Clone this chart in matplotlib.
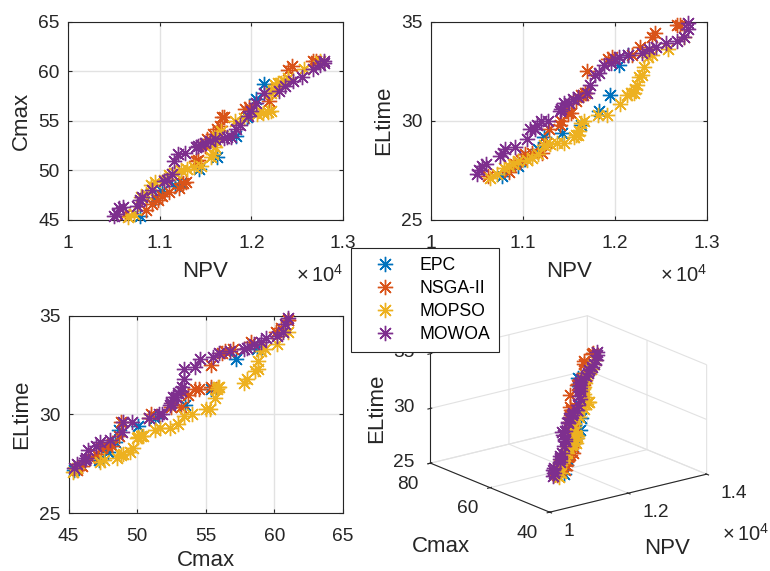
import numpy as np
import matplotlib
matplotlib.use("Agg")
import matplotlib.pyplot as plt

plt.rcParams['font.family'] = ['Liberation Sans', 'DejaVu Sans']
plt.rcParams['mathtext.default'] = 'regular'

names = ["EPC", "NSGA-II", "MOPSO", "MOWOA"]
colors = ["#0072BD", "#D95319", "#EDB120", "#7E2F8E"]

# NPV (x 1e4), Cmax, ELtime
epc_npv = [1.078, 1.095, 1.103, 1.117, 1.123, 1.143, 1.163, 1.183, 1.195, 1.205, 1.214]
epc_cmax = [45.4, 47.2, 47.9, 48.4, 48.7, 50.1, 51.3, 53.5, 55.4, 57.2, 58.7]
epc_el = [27.2, 27.7, 28.1, 28.6, 29.2, 29.4, 29.8, 30.5, 31.3, 32.8, 33.3]

nsga_npv = [1.062, 1.085, 1.092, 1.098, 1.103, 1.110, 1.121, 1.125, 1.129, 1.140, 1.142, 1.149,
            1.152, 1.158, 1.163, 1.166, 1.168, 1.170, 1.193, 1.197, 1.219, 1.227, 1.240, 1.244,
            1.267, 1.271]
nsga_cmax = [45.6, 46.0, 46.6, 47.0, 47.4, 47.8, 48.2, 48.7, 48.8, 50.9, 51.0, 52.5,
             53.2, 53.7, 54.2, 54.5, 55.4, 55.4, 56.2, 56.4, 57.0, 58.3, 60.1, 60.5,
             61.0, 61.0]
nsga_el = [27.2, 27.4, 27.8, 28.0, 28.3, 28.4, 28.4, 28.9, 29.6, 29.8, 30.0, 30.4,
           30.4, 31.0, 31.3, 31.3, 31.4, 32.5, 33.1, 33.2, 33.3, 33.7, 34.2, 34.4,
           34.8, 34.8]

mopso_npv = [1.065, 1.072, 1.080, 1.085, 1.090, 1.095, 1.105, 1.110, 1.117, 1.123, 1.130, 1.137,
             1.145, 1.156, 1.158, 1.160, 1.161, 1.163, 1.167, 1.182, 1.192, 1.206, 1.213, 1.218,
             1.221, 1.222, 1.224, 1.226, 1.229, 1.232, 1.236, 1.240, 1.258, 1.275]
mopso_cmax = [45.3, 45.6, 47.3, 47.6, 48.5, 48.8, 49.0, 49.5, 49.7, 50.0, 50.1, 50.3,
              50.4, 51.3, 51.7, 52.4, 53.0, 53.4, 54.0, 55.0, 55.3, 55.7, 55.8, 55.9,
              56.0, 57.8, 58.0, 58.6, 58.8, 58.8, 59.0, 59.3, 60.2, 61.0]
mopso_el = [27.1, 27.3, 27.6, 27.7, 27.8, 27.95, 28.0, 28.1, 28.3, 28.8, 28.85, 28.9,
            28.9, 29.2, 29.3, 29.3, 29.5, 29.9, 30.0, 30.3, 30.3, 30.85, 31.3, 31.4,
            31.4, 31.6, 31.8, 32.2, 32.3, 32.7, 33.2, 33.3, 33.6, 34.2]

mowoa_npv = [1.050, 1.053, 1.056, 1.060, 1.075, 1.079, 1.081, 1.092, 1.105, 1.108, 1.113, 1.116,
             1.120, 1.128, 1.140, 1.142, 1.145, 1.150, 1.155, 1.160, 1.170, 1.173, 1.178, 1.183,
             1.188, 1.196, 1.200, 1.205, 1.214, 1.230, 1.237, 1.245, 1.255, 1.267, 1.275, 1.279,
             1.279]
mowoa_cmax = [45.4, 45.6, 46.2, 46.3, 46.4, 47.0, 47.3, 48.0, 48.9, 49.0, 49.6, 50.9,
              51.6, 51.8, 52.4, 52.5, 52.6, 52.8, 53.0, 53.2, 53.3, 53.4, 53.4, 54.2,
              54.6, 55.5, 56.0, 56.8, 57.8, 58.0, 58.5, 59.0, 59.4, 60.2, 60.6, 60.8,
              61.0]
mowoa_el = [27.3, 27.5, 27.7, 27.8, 28.2, 28.4, 28.6, 28.7, 29.1, 29.6, 29.6, 29.8,
            30.0, 30.0, 30.5, 30.6, 30.9, 30.9, 31.1, 31.2, 31.4, 31.8, 32.3, 32.4,
            32.8, 32.9, 33.1, 33.2, 33.3, 33.4, 33.6, 33.7, 33.9, 34.0, 34.2, 34.6,
            34.9]

npv = [epc_npv, nsga_npv, mopso_npv, mowoa_npv]
cmax = [epc_cmax, nsga_cmax, mopso_cmax, mowoa_cmax]
eltime = [epc_el, nsga_el, mopso_el, mowoa_el]

W, H = 770, 571
dark = '#262626'
star = (8, 2, 0)
tick_fs = 13.8
label_fs = 16


def rect(x0, y0, x1, y1):
    # pixel box from the top left corner to figure fractions
    return [x0 / W, 1 - y1 / H, (x1 - x0) / W, (y1 - y0) / H]


def panel(box, xs, ys, xlim, ylim, xticks, yticks, xlab, ylab, xfmt, offset=False, xpad=7):
    ax = fig.add_axes(rect(*box))
    for x, y, c in zip(xs, ys, colors):
        ax.plot(x, y, ls='none', marker=star, ms=11, mew=1.0, color=c, clip_on=False, zorder=3)
    ax.set_xlim(xlim)
    ax.set_ylim(ylim)
    ax.set_xticks(xticks)
    ax.set_xticklabels(xfmt)
    ax.set_yticks(yticks)
    ax.grid(True, color='#e2e2e2', lw=1.0)
    ax.set_axisbelow(True)
    ax.tick_params(direction='in', top=True, right=True, length=3, width=0.8, colors=dark,
                   labelsize=tick_fs)
    ax.tick_params(axis='x', pad=10.5)
    ax.tick_params(axis='y', pad=6)
    ax.set_xlabel(xlab, fontsize=label_fs, color=dark, labelpad=xpad)
    ax.set_ylabel(ylab, fontsize=label_fs, color=dark, labelpad=4.5)
    for s in ax.spines.values():
        s.set_color(dark)
        s.set_linewidth(0.8)
    if offset:
        ax.text(1.0, -0.278, r'$\times\,10^{4}$', transform=ax.transAxes, ha='right', va='center',
                fontsize=14.5, color=dark)
    return ax


fig = plt.figure(figsize=(W / 100, H / 100), dpi=100)

npv_ticks = [1.0, 1.1, 1.2, 1.3]
npv_labels = ['1', '1.1', '1.2', '1.3']
panel((68, 21.5, 343, 220), npv, cmax, (1.0, 1.3), (45, 65), npv_ticks, [45, 50, 55, 60, 65],
      'NPV', 'Cmax', npv_labels, offset=True)
panel((430.5, 21.5, 707, 220), npv, eltime, (1.0, 1.3), (25, 35), npv_ticks, [25, 30, 35],
      'NPV', 'ELtime', npv_labels, offset=True)
panel((68.5, 316, 343, 513), cmax, eltime, (45, 65), (25, 35), [45, 50, 55, 60, 65], [25, 30, 35],
      'Cmax', 'ELtime', ['45', '50', '55', '60', '65'], xpad=4)

# 3D panel
ax3 = fig.add_axes(rect(414.5, 268, 714.5, 568), projection='3d', proj_type='ortho')
ax3.view_init(elev=18.4, azim=-127.5)
ax3.set_box_aspect((199, 197, 116), zoom=0.975)
handles = []
for x, y, z, c, n in zip(npv, cmax, eltime, colors, names):
    h, = ax3.plot(x, y, z, ls='none', marker=star, ms=11, mew=1.0, color=c, label=n)
    handles.append(h)
ax3.set_xlim(1.0, 1.4, view_margin=0)
ax3.set_ylim(40, 80, view_margin=0)
ax3.set_zlim(25, 35, view_margin=0)
ax3.set_xticks([1.0, 1.2, 1.4])
ax3.set_xticklabels(['1', '1.2', '1.4'])
ax3.set_yticks([40, 60, 80])
ax3.set_zticks([25, 30, 35])
ax3.patch.set_alpha(0)
for a in (ax3.xaxis, ax3.yaxis, ax3.zaxis):
    a.set_pane_color((1, 1, 1, 0))
    a.pane.set_edgecolor('#dcdcdc')
    a.line.set_color(dark)
    a.line.set_linewidth(0.8)
    a._axinfo['grid']['color'] = '#e2e2e2'
    a._axinfo['grid']['linewidth'] = 0.8
ax3.tick_params(colors=dark, labelsize=tick_fs)
ax3.tick_params(axis='x', pad=5.5)
ax3.tick_params(axis='y', pad=8)
ax3.tick_params(axis='z', pad=3)
for t in ax3.get_xticklabels():
    t.set_ha('left')
    t.set_va('center')
for t in ax3.get_yticklabels():
    t.set_va('center')
for t in ax3.get_zticklabels():
    t.set_va('center')
fig.text(667 / W, 1 - 549 / H, 'NPV', ha='center', va='center', fontsize=label_fs, color=dark)
fig.text(441 / W, 1 - 547 / H, 'Cmax', ha='center', va='center', fontsize=label_fs, color=dark)
fig.text(377 / W, 1 - 408 / H, 'ELtime', ha='center', va='center', rotation=90, fontsize=label_fs,
         color=dark)
fig.text(769 / W, 1 - 534 / H, r'$\times\,10^{4}$', ha='right', va='center', fontsize=14.5, color=dark)

leg = fig.legend(handles, names, loc='upper left', bbox_to_anchor=(351 / W, 1 - 248 / H),
                 fontsize=12.7, frameon=True, fancybox=False, framealpha=1, edgecolor=dark,
                 borderpad=0.5, labelspacing=0.35, handletextpad=0.5, handlelength=2.9,
                 borderaxespad=0)
leg.get_frame().set_linewidth(0.8)
leg.set_zorder(10)

fig.savefig('out.png', dpi=100)
